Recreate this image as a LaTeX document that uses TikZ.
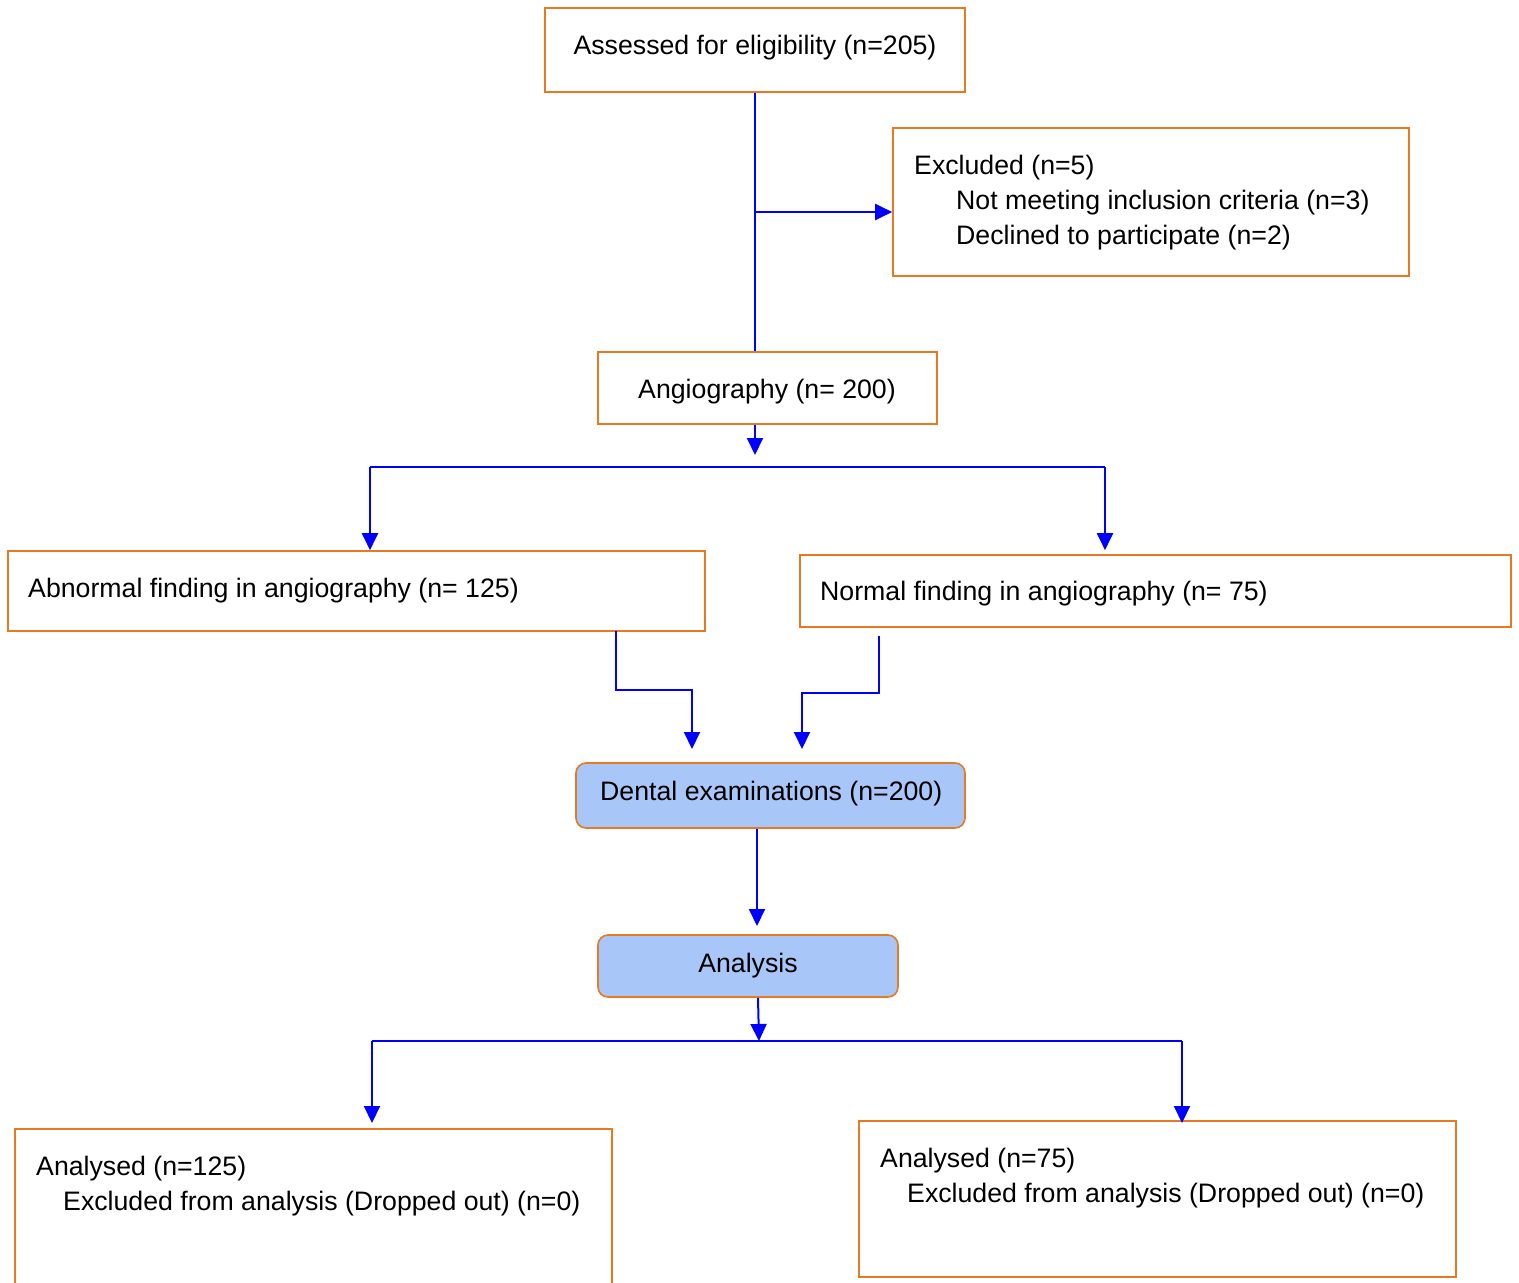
\documentclass[tikz,border=0pt]{standalone}
\usepackage{fontspec}
\setmainfont{Liberation Sans}
\usepackage{xcolor}
\usepackage{tikz}
\usetikzlibrary{arrows.meta}
\definecolor{boxorange}{RGB}{230,122,34}
\definecolor{boxfill}{RGB}{169,198,248}
\definecolor{linkblue}{RGB}{0,0,255}
\tikzset{>={Triangle[width=16pt,length=17pt]}}
\tikzset{box/.style={draw=boxorange, line width=1.6pt, inner sep=0pt},
  roundbox/.style={box, fill=boxfill, rounded corners=10pt},
  lbl/.style={inner sep=0pt, font=\fontsize{26.7}{32}\selectfont},
  link/.style={draw=linkblue, line width=2pt}}

\begin{document}
\begin{tikzpicture}[x=1pt,y=-1pt]
    \useasboundingbox (0,0) rectangle (1519,1283);

    % boxes
    \node[box, minimum width=420pt, minimum height=84pt] at (755,50) (assess) {};
    \node[box, minimum width=516pt, minimum height=148pt] at (1151,202) (excl) {};
    \node[box, minimum width=339pt, minimum height=72pt] at (767.5,388) (angio) {};
    \node[box, minimum width=697pt, minimum height=80pt] at (356.5,591) (abn) {};
    \node[box, minimum width=711pt, minimum height=72pt] at (1155.5,591) (norm) {};
    \node[roundbox, minimum width=389pt, minimum height=65pt] at (770.5,795.5) (dental) {};
    \node[roundbox, minimum width=300pt, minimum height=62pt] at (748,966) (anal) {};
    \node[box, minimum width=597pt, minimum height=161pt] at (313.5,1209.5) (resabn) {};
    \node[box, minimum width=597pt, minimum height=156pt] at (1157.5,1199) (resnorm) {};

    % texts
    \node[lbl, anchor=base] at (755,54) (assesstxt) {Assessed for eligibility (n=205)};
    \node[lbl, anchor=base west] at (914,174) (excltxt) {Excluded (n=5)};
    \node[lbl, anchor=base west] at (956,209) (excltxta) {Not meeting inclusion criteria (n=3)};
    \node[lbl, anchor=base west] at (956,244) (excltxtb) {Declined to participate (n=2)};
    \node[lbl, anchor=base] at (767,398) (angiotxt) {Angiography (n= 200)};
    \node[lbl, anchor=base west] at (28,597) (abntxt) {Abnormal finding in angiography (n= 125)};
    \node[lbl, anchor=base west] at (820,600) (normtxt) {Normal finding in angiography (n= 75)};
    \node[lbl, anchor=base west] at (600,800) (dentaltxt) {Dental examinations (n=200)};
    \node[lbl, anchor=base] at (748,972) (analtxt) {Analysis};
    \node[lbl, anchor=base west] at (36,1175) (resabntxt) {Analysed (n=125)};
    \node[lbl, anchor=base west] at (63,1210) (resabntxta) {Excluded from analysis (Dropped out) (n=0)};
    \node[lbl, anchor=base west] at (880,1167) (resnormtxt) {Analysed (n=75)};
    \node[lbl, anchor=base west] at (907,1202) (resnormtxta) {Excluded from analysis (Dropped out) (n=0)};

    % connectors
    \coordinate (split) at (755,212);
    \coordinate (fork) at (755,467);
    \coordinate (forkL) at (370,467);
    \coordinate (forkR) at (1105,467);
    \coordinate (abnexit) at (616,631);
    \coordinate (normexit) at (879,636);
    \coordinate (dinL) at (692,749);
    \coordinate (dinR) at (802,749);
    \coordinate (analin) at (757,926);
    \coordinate (fork2) at (759,1041);
    \coordinate (fork2L) at (372,1041);
    \coordinate (fork2R) at (1182,1041);

    \draw[link] (assess.south) -- (assess.south |- angio.north);
    \draw[link,->] (split) -- (split -| excl.west);
    \draw[link,->] (angio.south -| fork) -- ([yshift=12pt]fork);
    \draw[link] (forkL) -- (forkR);
    \draw[link,->] (forkL) -- (forkL |- abn.north);
    \draw[link,->] (forkR) -- ([yshift=4pt]forkR |- norm.north);
    \draw[link,->] (abnexit) -- ++(0,59) -| (dinL);
    \draw[link,->] (normexit) -- ++(0,57) -| (dinR);
    \draw[link,->] (analin |- dental.south) -- (analin);
    \draw[link,->] ([xshift=10pt]anal.south) -- (fork2);
    \draw[link] (fork2L) -- (fork2R);
    \draw[link,->] (fork2L) -- ++(0,82);
    \draw[link,->] (fork2R) -- ++(0,82);
\end{tikzpicture}
\end{document}
